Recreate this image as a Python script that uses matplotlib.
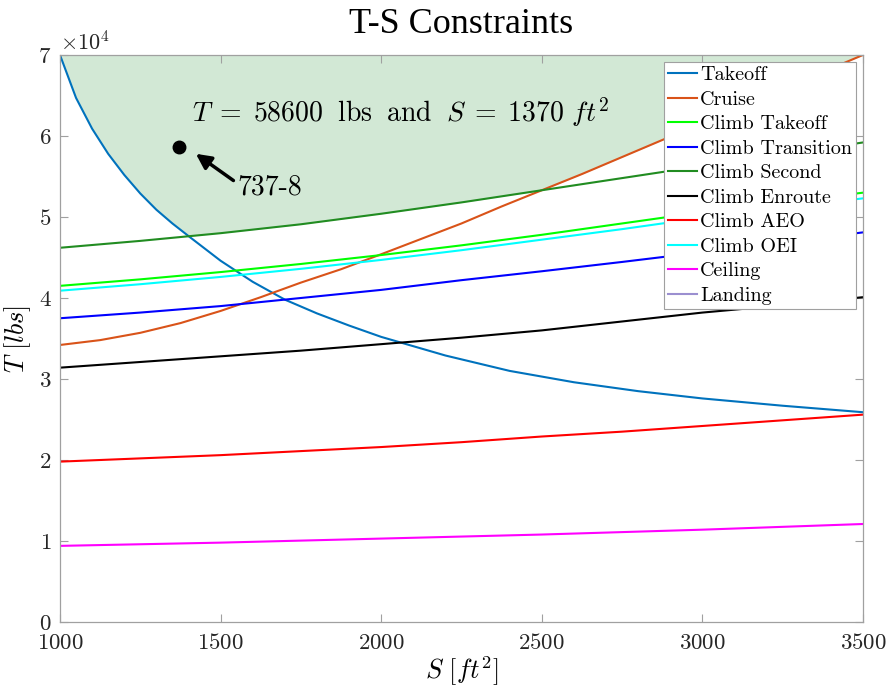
import numpy as np
import matplotlib
matplotlib.use('Agg')
import matplotlib.pyplot as plt

plt.rcParams['font.family'] = 'cmr10'
plt.rcParams['mathtext.fontset'] = 'cm'
plt.rcParams['axes.formatter.use_mathtext'] = True

# wing area grid [ft^2]
S = [1000, 1250, 1500, 1750, 2000, 2250, 2500, 2750, 3000, 3250, 3500]
# curved constraints are sampled finer
S_takeoff = [1000, 1050, 1100, 1150, 1200, 1250, 1300, 1350, 1400, 1500, 1600, 1700,
             1800, 1900, 2000, 2200, 2400, 2600, 2800, 3000, 3250, 3500]
S_cruise = [1000, 1125, 1250, 1375, 1500, 1625, 1750, 1875, 2000, 2125, 2250, 2375,
            2500, 2625, 2750, 2875, 3000, 3125, 3250, 3375, 3500]

# required thrust per constraint [lbs]
T_takeoff = [70000, 64700, 60900, 57800, 55200, 52900, 50900, 49200, 47650, 44600, 42000, 39800,
             38100, 36600, 35200, 32900, 31000, 29600, 28500, 27600, 26700, 25900]
T_cruise = [34200, 34800, 35700, 36900, 38400, 40100, 41900, 43550, 45400, 47300, 49200, 51300,
            53300, 55300, 57400, 59500, 61600, 63700, 65800, 67900, 70000]
T_climb_takeoff = [41500, 42300, 43200, 44200, 45300, 46500, 47800, 49200, 50600, 51800, 53000]
T_climb_transition = [37500, 38200, 39000, 40000, 41000, 42200, 43300, 44450, 45650, 46850, 48100]
T_climb_second = [46200, 47050, 48000, 49100, 50400, 51800, 53300, 54800, 56300, 57700, 59200]
T_climb_enroute = [31400, 32100, 32800, 33500, 34300, 35100, 36000, 37100, 38200, 39100, 40100]
T_climb_aeo = [19800, 20200, 20600, 21100, 21600, 22200, 22900, 23500, 24200, 24900, 25600]
T_climb_oei = [40900, 41700, 42600, 43600, 44700, 45900, 47200, 48500, 49900, 51100, 52300]
T_ceiling = [9400, 9600, 9800, 10050, 10300, 10550, 10800, 11100, 11400, 11750, 12100]

# design point
S_737 = 1370
T_737 = 58600

T_max = 70000

curves = [
    ('Takeoff', S_takeoff, T_takeoff, (0.0, 0.447, 0.741)),
    ('Cruise', S_cruise, T_cruise, (0.85, 0.325, 0.098)),
    ('Climb Takeoff', S, T_climb_takeoff, (0.0, 1.0, 0.0)),
    ('Climb Transition', S, T_climb_transition, (0.0, 0.0, 1.0)),
    ('Climb Second', S, T_climb_second, (0.13, 0.55, 0.13)),
    ('Climb Enroute', S, T_climb_enroute, (0.0, 0.0, 0.0)),
    ('Climb AEO', S, T_climb_aeo, (1.0, 0.0, 0.0)),
    ('Climb OEI', S, T_climb_oei, (0.0, 1.0, 1.0)),
    ('Ceiling', S, T_ceiling, (1.0, 0.0, 1.0)),
]

fig = plt.figure(figsize=(8.86, 6.88), dpi=100)
ax = fig.add_axes([0.0677, 0.0959, 0.9063, 0.8242])

# feasible region: above every constraint
Sf = np.linspace(S[0], S[-1], 1001)
env = np.max([np.interp(Sf, s, t) for _, s, t, _ in curves], axis=0)
ax.fill_between(Sf, env, T_max, color='#d2e8d5', lw=0, zorder=0)

for name, s, t, c in curves:
    ax.plot(s, t, color=c, lw=1.5, label=name)
ax.plot([], [], color='#9b8fd0', lw=1.5, label='Landing')

ax.plot(S_737, T_737, 'o', color='k', ms=9)
ax.annotate('', xy=(1423, 57800), xytext=(1540, 54500),
            arrowprops=dict(arrowstyle='-|>,head_length=0.9,head_width=0.45',
                            lw=2.5, color='k', shrinkA=0, shrinkB=0))
ax.text(1552, 53600, '737-8', fontsize=20, ha='left', va='center')
ax.text(1410, 62900,
        r'$T\;=\;58600\;\ \mathrm{lbs}\;\ \mathrm{and}\;\ S\;=\;1370\ ft^2$',
        fontsize=20, ha='left', va='center')

ax.set_xlim(1000, 3500)
ax.set_ylim(0, T_max)
ax.set_xticks(np.arange(1000, 3501, 500))
ax.set_yticks(np.arange(0, 70001, 10000))
ax.ticklabel_format(axis='y', style='sci', scilimits=(4, 4))
ax.yaxis.get_offset_text().set_fontsize(16)

ax.tick_params(direction='in', length=6, width=0.8, color='#a0a0a0',
               top=True, right=True, labelsize=16.5, labelcolor='#262626')
ax.tick_params(axis='x', pad=8)
ax.tick_params(axis='y', pad=6)
for sp in ax.spines.values():
    sp.set_color('#a0a0a0')
    sp.set_linewidth(0.9)

ax.set_xlabel(r'$S\ [ft^2]$', fontsize=19, labelpad=1)
ax.set_ylabel(r'$T\ [lbs]$', fontsize=19, labelpad=4)
ax.set_title('T-S Constraints', fontsize=26, family='Liberation Serif', y=1.0, pad=16)

leg = ax.legend(loc='upper right', fontsize=14.5, frameon=True, fancybox=False,
                framealpha=1, edgecolor='#a0a0a0', handlelength=1.45,
                handletextpad=0.15, labelspacing=0.32, borderpad=0.2,
                borderaxespad=0.35)
leg.get_frame().set_linewidth(0.8)

fig.savefig('out.png', dpi=100)
